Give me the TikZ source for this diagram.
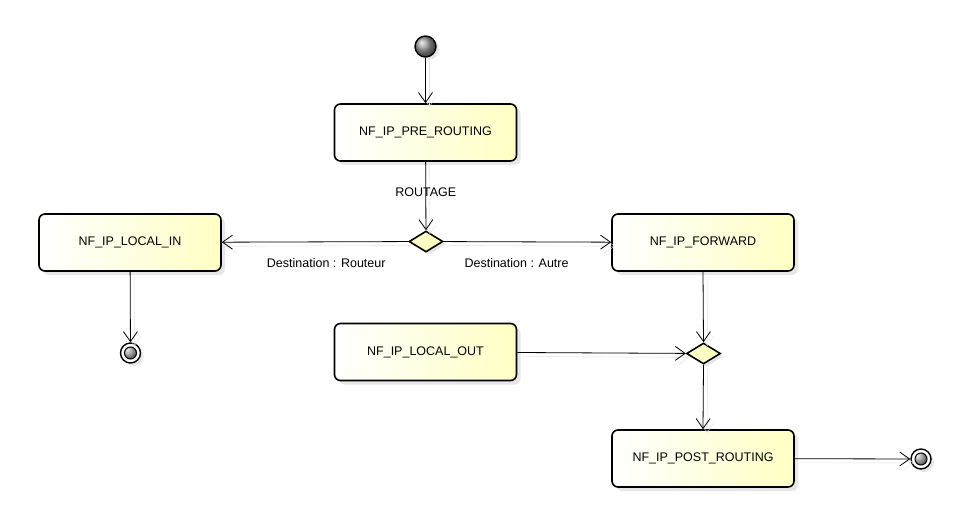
\documentclass[tikz,border=0pt]{standalone}
\usepackage{fontspec}
\setmainfont{Liberation Sans}
\usepackage{tikz}
\usetikzlibrary{shapes.geometric,shadows,arrows.meta}

\definecolor{jaune}{RGB}{255,255,196}
\definecolor{ombre}{RGB}{208,208,208}

\tikzset{
  etat/.style={draw=black, line width=1.6pt, rounded corners=6pt, minimum width=182pt, minimum height=57pt, left color=white, right color=jaune, font=\fontsize{12.5}{14}\selectfont, drop shadow={shadow xshift=4pt, shadow yshift=-4pt, fill=ombre}},
  choix/.style={diamond, draw=black, line width=1.6pt, fill=jaune, minimum width=34pt, minimum height=21pt, inner sep=0pt, drop shadow={shadow xshift=3pt, shadow yshift=-3pt, fill=ombre}},
  debut/.style={circle, draw=black, line width=1.4pt, ball color=black!40, minimum size=21pt, inner sep=0pt, drop shadow={shadow xshift=3pt, shadow yshift=-3pt, fill=ombre}},
  fin/.style={circle, draw=black, line width=1.4pt, fill=white, minimum size=20pt, inner sep=0pt, drop shadow={shadow xshift=3pt, shadow yshift=-3pt, fill=ombre},
    path picture={\draw[line width=1pt, ball color=black!40] (path picture bounding box.center) circle (6pt);}},
  flot/.style={line width=0.8pt, -{Straight Barb[length=10pt,width=14pt]}, preaction={draw=black!12, transform canvas={shift={(4pt,-4pt)}}}},
  lbl/.style={font=\fontsize{12.5}{14}\selectfont, inner sep=0pt}
}

\begin{document}
\begin{tikzpicture}[x=1pt, y=-1pt]
\useasboundingbox (0,0) rectangle (953,514);
% etats
\node[debut] (init) at (425.5,46.5) {};
\node[etat] (pre) at (425.5,132.5) {NF\_IP\_PRE\_ROUTING};
\node[choix] (routage) at (426,241.5) {};
\node[etat] (locin) at (130,242.5) {NF\_IP\_LOCAL\_IN};
\node[etat] (fwd) at (703,242.5) {NF\_IP\_FORWARD};
\node[fin] (fin1) at (130.5,353) {};
\node[etat] (locout) at (425.5,352) {NF\_IP\_LOCAL\_OUT};
\node[choix] (fusion) at (703.5,353.5) {};
\node[etat] (post) at (703,458.5) {NF\_IP\_POST\_ROUTING};
\node[fin] (fin2) at (921,459) {};
% transitions
\draw[flot] (init) -- (pre);
\draw[flot] (pre) -- node[lbl, pos=0.45]{ROUTAGE} (routage);
\draw[flot] (routage) -- node[lbl, pos=0.44, yshift=-21pt]{Destination : Routeur} (locin);
\draw[flot] (routage) -- node[lbl, pos=0.435, yshift=-21pt]{Destination : Autre} (fwd);
\draw[flot] (locin) -- (fin1);
\draw[flot] (fwd.south) -- (fusion.north);
\draw[flot] (locout) -- (fusion);
\draw[flot] (fusion.south) -- (post.north);
\draw[flot] (post) -- (fin2);
\end{tikzpicture}
\end{document}
